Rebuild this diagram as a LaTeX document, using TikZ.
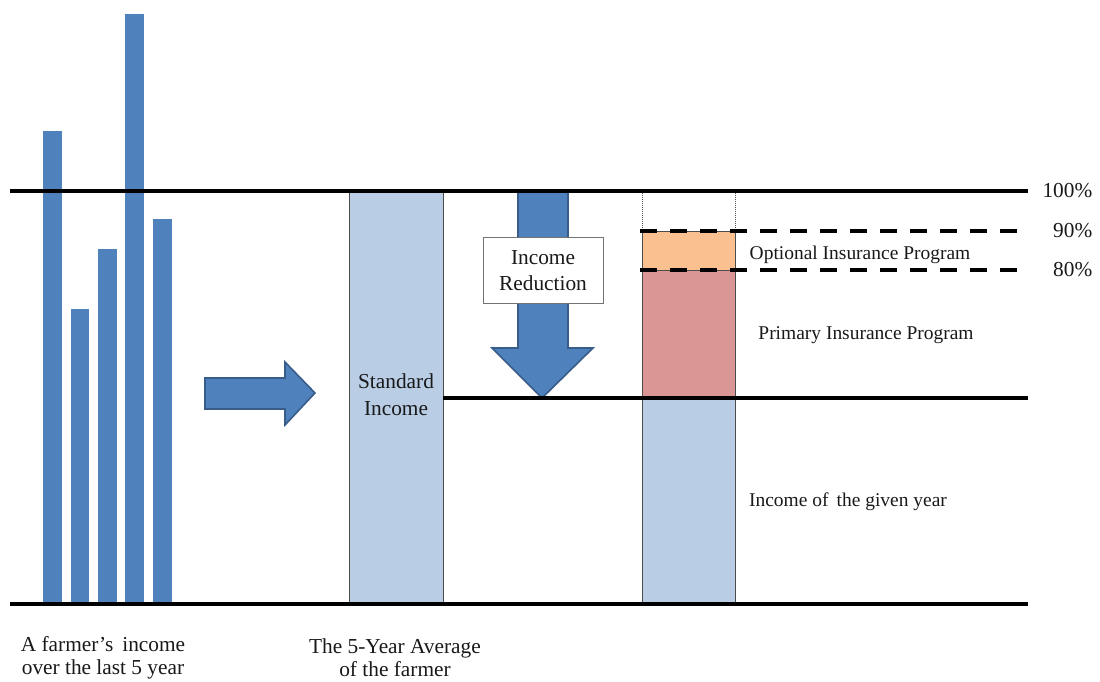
\documentclass[tikz,border=0pt]{standalone}
\usepackage{fontspec}
\setmainfont{Liberation Serif}
\begin{document}
\begin{tikzpicture}[x=0.75pt,y=-0.75pt,
  bar/.style={fill=barblue},
  thick line/.style={line width=2.7pt,black},
  dash line/.style={line width=3.4pt,black,dash pattern=on 13pt off 9.5pt},
  big/.style={font=\fontsize{16}{20}\selectfont,text=black!90,align=center},
  bottom/.style={font=\fontsize{16}{17.5}\selectfont,text=black!90,align=center},
  small/.style={font=\fontsize{14.6}{17}\selectfont,text=black!90},
  col/.style={draw=black!70,line width=0.6pt},
  arrowshape/.style={fill=barblue,draw=arrowedge,line width=1.2pt,line join=miter}]
\definecolor{barblue}{HTML}{4F81BD}
\definecolor{arrowedge}{HTML}{385D8A}
\definecolor{lightblue}{HTML}{B9CDE5}
\definecolor{orangefill}{HTML}{FAC090}
\definecolor{redfill}{HTML}{D99694}
\useasboundingbox (0,0) rectangle (1100,682);
% bars
\fill[bar] (43,131) rectangle (62,604);
\fill[bar] (71,309) rectangle (89,604);
\fill[bar] (98,249) rectangle (117,604);
\fill[bar] (125,14) rectangle (144,604);
\fill[bar] (153,219) rectangle (172,604);
% right arrow
\draw[arrowshape] (205,378) -- (285,378) -- (285,362) -- (315,393) -- (285,425) -- (285,409) -- (205,409) -- cycle;
% standard income column
\draw[col,fill=lightblue] (349,191) rectangle (443,604);
\node[big] (std) at (396,395) {Standard\\Income};
% down arrow
\draw[arrowshape] (518,191) -- (568,191) -- (568,348) -- (593,348) -- (542,398) -- (492,348) -- (518,348) -- cycle;
\node[big,draw=black!55,fill=white,line width=0.6pt,minimum width=90pt,minimum height=50pt,inner sep=0pt] (red) at (543,270.5) {Income\\Reduction};
% right column
\draw[black!70,line width=0.5pt,densely dotted] (642,191) -- (642,231) (735,191) -- (735,231);
\draw[col,fill=orangefill] (642,231) rectangle (735,270);
\draw[col,fill=redfill] (642,270) rectangle (735,398);
\draw[col,fill=lightblue] (642,398) rectangle (735,604);
% lines
\coordinate (t0) at (10,191); \coordinate (t1) at (1028,191);
\coordinate (m0) at (443,398); \coordinate (m1) at (1028,398);
\coordinate (b0) at (10,604); \coordinate (b1) at (1028,604);
\coordinate (n0) at (640,231); \coordinate (n1) at (1022,231);
\coordinate (e0) at (640,270); \coordinate (e1) at (1022,270);
\draw[thick line] (t0) -- (t1);
\draw[thick line] (m0) -- (m1);
\draw[thick line] (b0) -- (b1);
\draw[dash line] (n0) -- (n1);
\draw[dash line] (e0) -- (e1);
% labels
\node[big,anchor=east] (p100) at (1097,191) {100\%};
\node[big,anchor=east] (p90) at (1097,231) {90\%};
\node[big,anchor=east] (p80) at (1097,270) {80\%};
\node[small] (opt) at (860,255) {Optional Insurance Program};
\node[small] (prim) at (866,335) {Primary Insurance Program};
\node[small] (given) at (848,502) {Income of\, the given year};
\node[bottom] (l1) at (103,658) {A farmer’s\, income\\over the last 5 year};
\node[bottom] (l2) at (395,658) {The 5-Year Average\\of the farmer};
\end{tikzpicture}
\end{document}
